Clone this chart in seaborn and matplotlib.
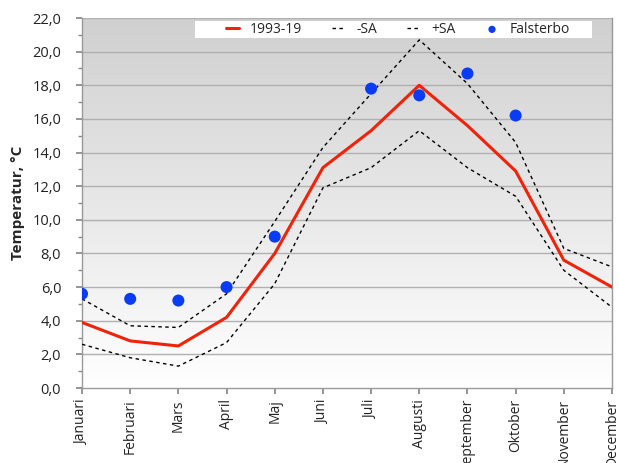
import numpy as np
import pandas as pd
import matplotlib
matplotlib.use("Agg")
import matplotlib.pyplot as plt
import seaborn as sns
from matplotlib.ticker import MultipleLocator, FuncFormatter
from matplotlib.colors import LinearSegmentedColormap
from matplotlib.patches import Rectangle

months = ["Januari", "Februari", "Mars", "April", "Maj", "Juni", "Juli",
          "Augusti", "September", "Oktober", "November", "December"]
mean_1993_19 = [3.9, 2.8, 2.5, 4.2, 8.0, 13.1, 15.3, 18.0, 15.6, 12.9, 7.6, 6.0]
minus_sa = [2.6, 1.8, 1.3, 2.7, 6.2, 11.9, 13.1, 15.3, 13.1, 11.4, 7.0, 4.8]
plus_sa = [5.3, 3.7, 3.6, 5.6, 9.9, 14.3, 17.5, 20.7, 18.1, 14.6, 8.3, 7.2]
falsterbo = [5.6, 5.3, 5.2, 6.0, 9.0, np.nan, 17.8, 17.4, 18.7, 16.2, np.nan, np.nan]

df = pd.DataFrame({"month": months, "x": range(12), "mean": mean_1993_19,
                   "minus": minus_sa, "plus": plus_sa, "fal": falsterbo})

sns.set_theme(style="white")
plt.rcParams["font.family"] = ["Open Sans", "DejaVu Sans"]

fig = plt.figure(figsize=(6.19, 4.63), dpi=100)
ax = fig.add_axes([82/619, 1-388/463, 530/619, 370/463])

# gradient background
grad = np.linspace(0, 1, 256).reshape(-1, 1)
cmap = LinearSegmentedColormap.from_list("g", ["#ffffff", "#d0d0d0"])
ax.imshow(grad, extent=[0, 1, 0, 1], transform=ax.transAxes, cmap=cmap,
          origin="lower", aspect="auto", zorder=0)

for yv in range(2, 23, 2):
    ax.axhline(yv, color="#b0b0b0", lw=1.0, zorder=1)

sns.lineplot(data=df, x="x", y="mean", ax=ax, color="#f0220a", lw=2.2,
             label="1993-19", zorder=3)
sns.lineplot(data=df, x="x", y="minus", ax=ax, color="black", lw=1.0,
             linestyle=(0, (2.5, 2.5)), label="-SA", zorder=3)
sns.lineplot(data=df, x="x", y="plus", ax=ax, color="black", lw=1.0,
             linestyle=(0, (2.5, 2.5)), label="+SA", zorder=3)
sns.scatterplot(data=df, x="x", y="fal", ax=ax, color="#0a3cf5", s=75,
                edgecolor="none", label="Falsterbo", zorder=4)

ax.set_xlim(0, 11)
ax.set_ylim(0, 22)
ax.set_xticks(range(12))
ax.set_xticklabels(months, rotation=90, fontsize=10, color="#222222")
ax.yaxis.set_major_locator(MultipleLocator(2))
ax.yaxis.set_minor_locator(MultipleLocator(1))
ax.yaxis.set_major_formatter(FuncFormatter(lambda v, p: f"{v:.1f}".replace(".", ",")))
ax.tick_params(axis="y", which="major", labelsize=10.5, labelcolor="#222222",
               left=True, length=4, color="#888888", pad=11)
ax.tick_params(axis="y", which="minor", left=True, length=3, color="#888888")
ax.tick_params(axis="x", bottom=True, length=4, color="#888888", pad=4)
ax.set_xlabel("")
ax.set_ylabel("Temperatur, °C", fontsize=11, fontweight="bold", labelpad=5)

for s in ["left", "bottom", "right"]:
    ax.spines[s].set_color("#999999")
    ax.spines[s].set_linewidth(1.0)
ax.spines["top"].set_visible(False)

# white legend box
box = Rectangle((195/619, 1-38/463), (592-195)/619, 17/463,
                transform=fig.transFigure, facecolor="white", edgecolor="none",
                zorder=9, clip_on=False)
ax.add_artist(box)

leg = ax.legend(loc="center left", bbox_to_anchor=(226/619, 1-29.5/463),
                bbox_transform=fig.transFigure, ncol=4, frameon=False,
                fontsize=10, handlelength=0.9,
                columnspacing=2.2, borderpad=0.0, handletextpad=0.8,
                borderaxespad=0, markerscale=0.6)
leg.set_zorder(10)

fig.savefig("out.png", dpi=100)
